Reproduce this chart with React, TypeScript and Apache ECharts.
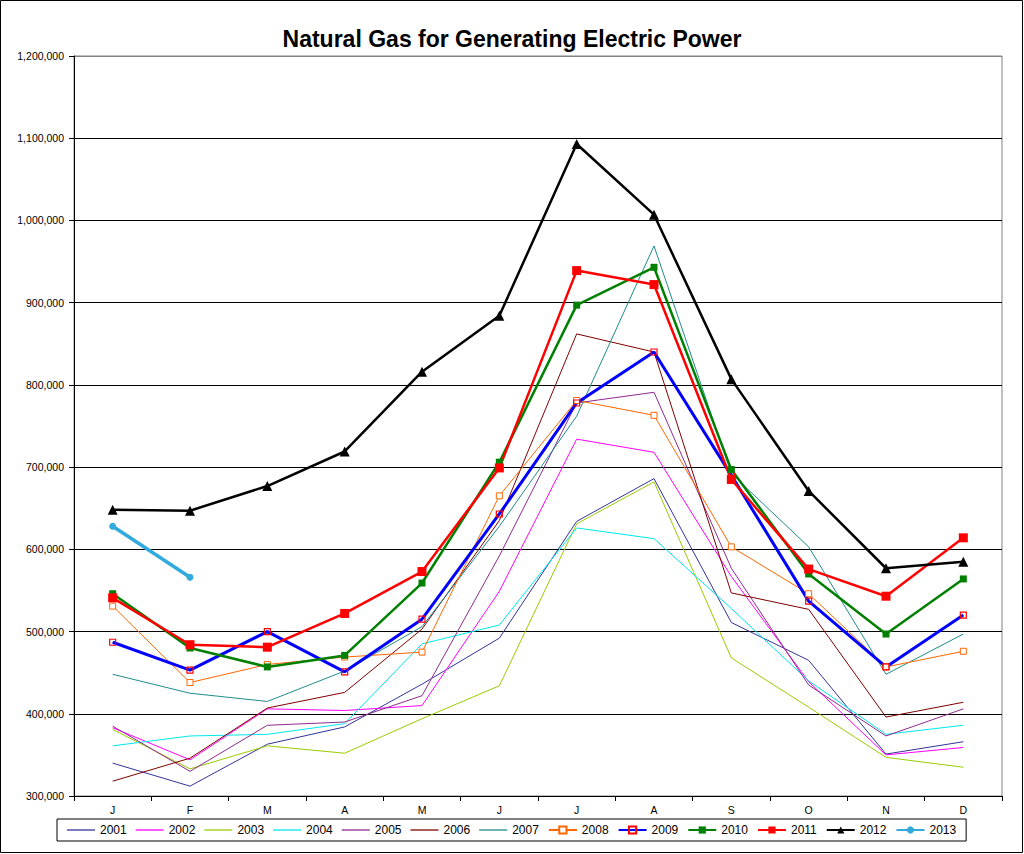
import { useEffect, useRef } from "react";
import * as echarts from "echarts";

const months = ["J", "F", "M", "A", "M", "J", "J", "A", "S", "O", "N", "D"];
const yTicks = [300000, 400000, 500000, 600000, 700000, 800000, 900000, 1000000, 1100000, 1200000];

const y2001 = [340000, 312000, 363000, 384000, 436000, 492000, 634000, 686000, 511000, 465000, 351000, 366000];
const y2002 = [383000, 344000, 406000, 404000, 410000, 549000, 734000, 718000, 567000, 439000, 350000, 359000];
const y2003 = [381000, 333000, 361000, 352000, 394000, 434000, 631000, 682000, 468000, 408000, 347000, 335000];
const y2004 = [361000, 373000, 375000, 388000, 485000, 508000, 626000, 613000, 528000, 440000, 375000, 386000];
const y2005 = [385000, 330000, 386000, 390000, 422000, 592000, 778000, 791000, 577000, 435000, 373000, 406000];
const y2006 = [318000, 346000, 407000, 426000, 503000, 635000, 862000, 840000, 547000, 527000, 396000, 414000];
const y2007 = [448000, 425000, 415000, 452000, 506000, 628000, 762000, 969000, 692000, 603000, 448000, 497000];
const y2008 = [531000, 438000, 460000, 469000, 475000, 665000, 781000, 763000, 603000, 546000, 457000, 476000];
const y2009 = [487000, 453000, 500000, 451000, 515000, 643000, 778000, 840000, 690000, 537000, 457000, 520000];
const y2010 = [546000, 480000, 457000, 471000, 559000, 706000, 897000, 943000, 697000, 570000, 497000, 564000];
const y2011 = [541000, 484000, 481000, 522000, 573000, 699000, 939000, 922000, 685000, 576000, 543000, 614000];
const y2012 = [648000, 647000, 677000, 719000, 816000, 884000, 1093000, 1007000, 807000, 671000, 577000, 585000];
const y2013 = [628000, 566000];

const thinYears = ["2001", "2002", "2003", "2004", "2005", "2006", "2007"];
const markedYears = ["2008", "2009", "2010", "2011", "2012", "2013"];

const FONT = "Arial, 'Liberation Sans', sans-serif";
// plain line icon for the series drawn without markers
const LINE_ICON = "path://M0,0H28V1.3H0Z";

function thin(name: string, data: number[], color: string) {
  return {
    type: "line" as const,
    name,
    data,
    symbol: "none",
    lineStyle: { width: 1, color },
    itemStyle: { color },
  };
}

export default function App() {
  const ref = useRef<HTMLDivElement | null>(null);

  useEffect(() => {
    if (!ref.current) return;
    const chart = echarts.init(ref.current, undefined, { renderer: "svg" });

    const splitColors = yTicks.map((_, i) => (i === yTicks.length - 1 ? "#808080" : "#000000"));

    const option: echarts.EChartsOption = {
      animation: false,
      backgroundColor: "#ffffff",
      title: {
        text: "Natural Gas for Generating Electric Power",
        left: "center",
        top: 22,
        textStyle: { fontFamily: FONT, fontSize: 23, fontWeight: "bold", color: "#000" },
      },
      graphic: [
        {
          type: "rect",
          shape: { x: 0.5, y: 0.5, width: 1022, height: 852 },
          style: { fill: "none", stroke: "#000", lineWidth: 1 },
          silent: true,
        },
      ],
      grid: {
        left: 74,
        right: 22,
        top: 56,
        bottom: 58,
        show: true,
        borderColor: "#808080",
        borderWidth: 1,
      },
      legend: {
        left: 57,
        top: 819,
        padding: [5, 10],
        borderColor: "#000",
        borderWidth: 1,
        itemWidth: 28,
        itemHeight: 9,
        itemGap: 9,
        symbolKeepAspect: true,
        textStyle: { fontFamily: FONT, fontSize: 12, color: "#000" },
        data: [
          ...thinYears.map((name) => ({ name, icon: LINE_ICON })),
          ...markedYears.map((name) => ({ name })),
        ],
      },
      xAxis: {
        type: "category",
        data: months,
        boundaryGap: true,
        axisLine: { lineStyle: { color: "#000", width: 1 } },
        axisTick: { show: true, length: 5, lineStyle: { color: "#000" } },
        axisLabel: { fontFamily: FONT, fontSize: 10.5, color: "#000", margin: 8 },
        splitLine: { show: false },
      },
      yAxis: {
        type: "value",
        min: 300000,
        max: 1200000,
        interval: 100000,
        axisLine: { show: true, lineStyle: { color: "#000", width: 1 } },
        axisTick: { show: true, length: 5, lineStyle: { color: "#000" } },
        axisLabel: {
          fontFamily: FONT,
          fontSize: 10.5,
          color: "#000",
          margin: 10,
          formatter: (v: number) => v.toLocaleString("en-US"),
        },
        splitLine: { show: true, lineStyle: { color: splitColors, width: 1 } },
      },
      series: [
        thin("2001", y2001, "#333399"),
        thin("2002", y2002, "#ff00ff"),
        thin("2003", y2003, "#99cc00"),
        thin("2004", y2004, "#00e8ee"),
        thin("2005", y2005, "#8e2a8e"),
        thin("2006", y2006, "#800000"),
        thin("2007", y2007, "#1f8c8c"),
        {
          type: "line",
          name: "2008",
          data: y2008,
          symbol: "rect",
          symbolSize: 6,
          lineStyle: { width: 1, color: "#ff6600" },
          itemStyle: { color: "#ffffff", borderColor: "#ff6600", borderWidth: 1 },
        },
        {
          type: "line",
          name: "2009",
          data: y2009,
          symbol: "rect",
          symbolSize: 6,
          lineStyle: { width: 3, color: "#0000ff" },
          itemStyle: { color: "rgba(0,0,255,0)", borderColor: "#ff0000", borderWidth: 1.2 },
        },
        {
          type: "line",
          name: "2010",
          data: y2010,
          symbol: "rect",
          symbolSize: 7,
          lineStyle: { width: 2.5, color: "#008000" },
          itemStyle: { color: "#008000" },
        },
        {
          type: "line",
          name: "2011",
          data: y2011,
          symbol: "rect",
          symbolSize: 9,
          lineStyle: { width: 2.5, color: "#ff0000" },
          itemStyle: { color: "#ff0000" },
        },
        {
          type: "line",
          name: "2012",
          data: y2012,
          symbol: "triangle",
          symbolSize: 10,
          lineStyle: { width: 2.5, color: "#000000" },
          itemStyle: { color: "#000000" },
        },
        {
          type: "line",
          name: "2013",
          data: y2013,
          symbol: "circle",
          symbolSize: 7,
          lineStyle: { width: 3.5, color: "#33aadd" },
          itemStyle: { color: "#33aadd" },
        },
      ],
    };

    chart.setOption(option);
    return () => {
      chart.dispose();
    };
  }, []);

  return (
    <div
      ref={ref}
      style={{ position: "absolute", left: 0, top: 0, width: 1024, height: 854 }}
    />
  );
}
